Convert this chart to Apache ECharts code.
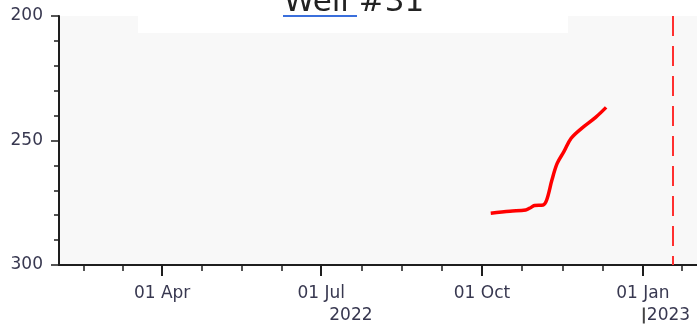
<!DOCTYPE html>
<html><head><meta charset="utf-8">
<script src="https://cdn.jsdelivr.net/npm/echarts@6/dist/echarts.min.js"></script>
<style>html,body{margin:0;padding:0;background:#fff}#c{width:697px;height:326px}</style>
</head><body><div id="c"></div>
<script>
// ---- data ----
const titleText = 'Well #31';
const dates = ['2022-10-06','2022-10-17','2022-10-26','2022-10-29','2022-10-31','2022-11-05','2022-11-07','2022-11-10','2022-11-13','2022-11-17','2022-11-21','2022-11-27','2022-12-05','2022-12-11'];
const levels = [279.2,278.4,277.9,276.9,276.1,275.9,273.9,265.9,259.2,254.3,249.1,245.1,240.7,236.7];
const quarterStarts = ['2022-01-01','2022-04-01','2022-07-01','2022-10-01','2023-01-01','2023-04-01'];
const tickLabelDates = ['2022-04-01','2022-07-01','2022-10-01','2023-01-01'];
const tickLabels = ['01 Apr','01 Jul','01 Oct','01 Jan'];
const yearLabels = ['2022','2023'];
const xMinDate = '2022-02-01';
const xMaxDate = '2023-02-01';
const markerDate = '2023-01-18';
const yMin = 200, yMax = 300, yStep = 50;

// ---- helpers ----
const ts = d => Date.parse(d);
const xMin = ts(xMinDate), xMax = ts(xMaxDate);
const labelTs = tickLabelDates.map(ts);
const minorTs = [];
for (let i = 0; i < quarterStarts.length - 1; i++) {
  const a = ts(quarterStarts[i]), b = ts(quarterStarts[i + 1]);
  for (let k = 0; k < 4; k++) {
    const v = a + (b - a) * k / 4;
    if (v >= xMin && v <= xMax) minorTs.push(v);
  }
}
const year2Start = ts(tickLabelDates[3]);
const year1Mid = (xMin + year2Start) / 2;

const labelColor = '#383850';
const font = 'DejaVu Sans';
const axisColor = '#1e1e1e';

const chart = echarts.init(document.getElementById('c'));
const baseX = {type: 'value', min: xMin, max: xMax, position: 'bottom', splitLine: {show: false}};
chart.setOption({
  animation: false,
  grid: {left: 59, right: 0, top: 16, bottom: 61, show: true, backgroundColor: '#f8f8f8', borderWidth: 0},
  xAxis: [
    Object.assign({}, baseX, {
      axisLine: {show: true, lineStyle: {color: axisColor, width: 2}},
      axisTick: {show: true, customValues: labelTs, length: 11, lineStyle: {color: axisColor, width: 2}},
      axisLabel: {show: true, customValues: labelTs, margin: 20, fontSize: 17, fontFamily: font, color: labelColor,
        formatter: v => tickLabels[labelTs.indexOf(v)] || ''}
    }),
    Object.assign({}, baseX, {
      axisLine: {show: false},
      axisTick: {show: true, customValues: minorTs, length: 6, lineStyle: {color: axisColor, width: 1.5}},
      axisLabel: {show: false}
    }),
    Object.assign({}, baseX, {
      axisLine: {show: false}, axisTick: {show: false},
      axisLabel: {show: true, customValues: [year1Mid], margin: 42, fontSize: 17, fontFamily: font, color: labelColor,
        formatter: () => yearLabels[0]}
    }),
    Object.assign({}, baseX, {
      axisLine: {show: false}, axisTick: {show: false},
      axisLabel: {show: true, customValues: [year2Start], margin: 42, fontSize: 17, fontFamily: font, color: labelColor, align: 'left',
        formatter: () => '{bar|}{t|' + yearLabels[1] + '}',
        rich: {bar: {width: 2, height: 16, backgroundColor: '#444'}, t: {fontSize: 17, fontFamily: font, color: labelColor, padding: [0, 0, 0, 2]}}}
    })
  ],
  yAxis: {
    type: 'value', inverse: true, min: yMin, max: yMax, interval: yStep,
    axisLine: {show: true, lineStyle: {color: axisColor, width: 2}},
    axisTick: {show: true, length: 8, lineStyle: {color: axisColor, width: 1.5}},
    minorTick: {show: true, splitNumber: 5, length: 5, lineStyle: {color: axisColor, width: 1.5}},
    axisLabel: {margin: 16, fontSize: 17, fontFamily: font, color: labelColor},
    splitLine: {show: false}
  },
  series: [{
    type: 'line', xAxisIndex: 0, showSymbol: false, symbol: 'none', smooth: 0.35,
    data: dates.map((d, i) => [ts(d), levels[i]]),
    lineStyle: {color: '#ff0000', width: 3.5},
    markLine: {
      silent: true, symbol: 'none', label: {show: false},
      lineStyle: {color: '#ff3030', width: 2, type: [20, 10], dashOffset: 0},
      data: [{xAxis: ts(markerDate)}]
    }
  }],
  graphic: [
    {type: 'rect', left: 138, top: 0, shape: {width: 430, height: 33}, style: {fill: '#ffffff'}, z: 100},
    {type: 'text', x: 354, y: 3, z: 101, style: {text: titleText, font: '31px "DejaVu Sans"', fill: '#222', align: 'center', verticalAlign: 'middle'}},
    {type: 'line', z: 101, shape: {x1: 283, y1: 16, x2: 357, y2: 16}, style: {stroke: '#3a6fdc', lineWidth: 2}}
  ]
});
</script></body></html>
